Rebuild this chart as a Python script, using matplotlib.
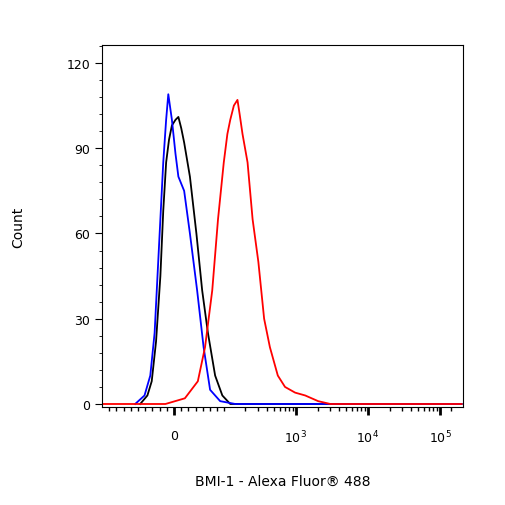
import numpy as np
import matplotlib
matplotlib.use("Agg")
import matplotlib.pyplot as plt

blue_x = [0.77,0.9,0.98,1.04,1.09,1.13,1.16,1.2,1.23,1.28,1.33,1.37,1.45,1.53,1.63,1.72,1.81,1.95,2.16,5.3]
blue_y = [0,3,10,25,50,70,85,100,109,100,88,80,75,60,40,20,5,1,0,0]
black_x = [0.84,0.94,1.0,1.06,1.12,1.16,1.2,1.24,1.28,1.33,1.37,1.41,1.45,1.53,1.62,1.70,1.78,1.88,1.98,2.09,5.3]
black_y = [0,3,8,22,45,68,85,93,98,100,101,97,92,80,60,40,25,10,3,0,0]
red_x = [0.3,1.19,1.46,1.64,1.74,1.84,1.92,2.0,2.05,2.09,2.14,2.19,2.22,2.26,2.33,2.4,2.48,2.56,2.64,2.75,2.85,2.99,3.13,3.31,3.48,5.3]
red_y = [0,0,2,8,20,40,65,85,95,100,105,107,102,95,85,65,50,30,20,10,6,4,3,1,0,0]
yticks = [0,30,60,90,120]
xtick_pos = [1.31,3,4,5]
xtick_labels = ["0", r"$10^3$", r"$10^4$", r"$10^5$"]

fig = plt.figure(figsize=(5.06,5.06), dpi=100)
ax = fig.add_axes([0.2016,0.194,0.7134,0.715])
ax.plot(black_x, black_y, color="black", lw=1.3)
ax.plot(blue_x, blue_y, color="blue", lw=1.3)
ax.plot(red_x, red_y, color="red", lw=1.3)
ax.set_xlim(0.31,5.32)
ax.set_ylim(-1,126.3)
ax.set_yticks(yticks)
ax.set_yticks(np.arange(0,127,6), minor=True)
ax.set_xticks(xtick_pos)
ax.set_xticklabels(xtick_labels)
minors=[]
for d in [3,4]:
    minors += [d+np.log10(k) for k in range(2,10)]
minors += [2+np.log10(k) for k in range(2,10)] + [5.15]
minors += [1.31+f for f in [-0.9,-0.8,-0.7,-0.6,-0.5,-0.4,-0.3,-0.2,-0.1]]
minors += [1.31+f for f in [0.1,0.2,0.3,0.4,0.5,0.6,0.69]]
ax.set_xticks(minors, minor=True)
ax.tick_params(axis="x", which="major", length=6, width=2, pad=10, labelsize=9)
ax.tick_params(axis="x", which="minor", length=3, width=1)
ax.tick_params(axis="y", which="major", length=5, labelsize=9)
ax.tick_params(axis="y", which="minor", length=2)
ax.set_ylabel("Count", fontsize=10, labelpad=30)
ax.set_xlabel("BMI-1 - Alexa Fluor® 488", fontsize=10, labelpad=20)
fig.savefig("out.png", dpi=100)
